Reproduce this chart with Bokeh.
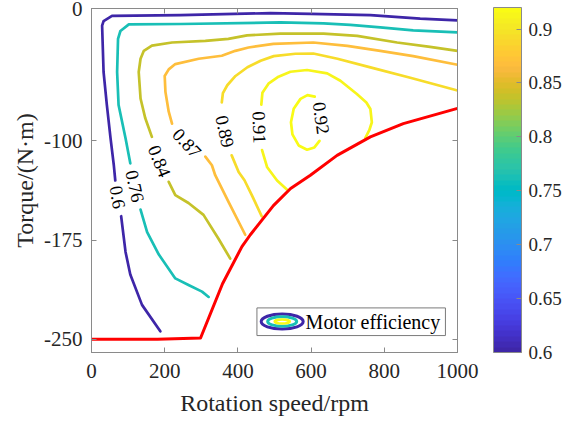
import numpy as np
from bokeh.plotting import figure
from bokeh.models import (ColumnDataSource, LinearAxis, FixedTicker, LinearColorMapper,
                          ColorBar, NumeralTickFormatter, BoxAnnotation, Label, Range1d)
from bokeh.transform import linear_cmap
from bokeh.core.properties import value
from bokeh.embed import file_html
from bokeh.resources import INLINE

# ---------------------------------------------------------------- colormap
PARULA_RGB = [
    (0.2422, 0.1504, 0.6603), (0.2504, 0.1650, 0.7076), (0.2578, 0.1818, 0.7511), (0.2647, 0.1978, 0.7952),
    (0.2706, 0.2147, 0.8364), (0.2751, 0.2342, 0.8710), (0.2783, 0.2559, 0.8991), (0.2803, 0.2782, 0.9221),
    (0.2813, 0.3006, 0.9414), (0.2810, 0.3228, 0.9579), (0.2795, 0.3447, 0.9717), (0.2760, 0.3667, 0.9829),
    (0.2699, 0.3892, 0.9906), (0.2602, 0.4123, 0.9952), (0.2440, 0.4358, 0.9988), (0.2206, 0.4603, 0.9973),
    (0.1963, 0.4847, 0.9892), (0.1834, 0.5074, 0.9798), (0.1786, 0.5289, 0.9682), (0.1764, 0.5499, 0.9520),
    (0.1687, 0.5703, 0.9359), (0.1540, 0.5902, 0.9218), (0.1460, 0.6091, 0.9079), (0.1380, 0.6276, 0.8973),
    (0.1248, 0.6459, 0.8883), (0.1113, 0.6635, 0.8763), (0.0952, 0.6798, 0.8598), (0.0689, 0.6948, 0.8394),
    (0.0297, 0.7082, 0.8163), (0.0036, 0.7197, 0.7917), (0.0067, 0.7300, 0.7660), (0.0433, 0.7394, 0.7394),
    (0.0964, 0.7489, 0.7120), (0.1408, 0.7579, 0.6842), (0.1717, 0.7669, 0.6554), (0.1938, 0.7757, 0.6251),
    (0.2161, 0.7840, 0.5923), (0.2470, 0.7918, 0.5567), (0.2906, 0.7973, 0.5188), (0.3406, 0.8008, 0.4789),
    (0.3909, 0.8029, 0.4354), (0.4456, 0.8024, 0.3909), (0.5044, 0.7993, 0.3480), (0.5616, 0.7942, 0.3045),
    (0.6174, 0.7876, 0.2612), (0.6720, 0.7793, 0.2227), (0.7242, 0.7698, 0.1910), (0.7738, 0.7598, 0.1646),
    (0.8203, 0.7498, 0.1535), (0.8634, 0.7406, 0.1596), (0.9035, 0.7330, 0.1774), (0.9393, 0.7288, 0.2100),
    (0.9728, 0.7298, 0.2394), (0.9956, 0.7434, 0.2371), (0.9970, 0.7659, 0.2199), (0.9952, 0.7893, 0.2028),
    (0.9892, 0.8136, 0.1885), (0.9786, 0.8386, 0.1766), (0.9676, 0.8639, 0.1643), (0.9610, 0.8890, 0.1537),
    (0.9597, 0.9135, 0.1423), (0.9628, 0.9373, 0.1265), (0.9691, 0.9606, 0.1064), (0.9769, 0.9839, 0.0805),
]
PARULA = ["#%02x%02x%02x" % tuple(int(round(c * 255)) for c in rgb) for rgb in PARULA_RGB]

# ---------------------------------------------------------------- data
EFF_LOW, EFF_HIGH = 0.6, 0.92
levels = [0.60, 0.76, 0.84, 0.87, 0.89, 0.91, 0.92]

# iso-efficiency lines (speed in rpm, torque in N·m), split where the label sits
c060_lower_x = [81, 93, 106, 138, 188]
c060_lower_y = [-157, -184, -201, -224, -244]
c060_upper_x = [65, 61, 52, 42, 33, 29, 33, 56, 243, 489, 598, 762, 898, 1000]
c060_upper_y = [-130, -118.5, -98, -73, -48, -13, -9.5, -5.5, -5, -3.5, -4, -5, -7.7, -9]

c076_lower_x = [134, 152, 184, 229, 265, 302, 320]
c076_lower_y = [-152, -169, -186, -204, -209, -214, -218]
c076_upper_x = [106, 93, 74, 70, 72.5, 79, 102, 244, 516, 634, 707, 789, 879, 1000]
c076_upper_y = [-117, -98, -73, -48, -23, -17, -12, -11.7, -10.5, -11.3, -12.4, -14.3, -16.6, -18]

c084_lower_x = [211, 229, 265, 306, 347, 379]
c084_lower_y = [-131, -141, -147, -156, -174, -189]
c084_upper_x = [165, 147, 134, 129, 134, 143, 165, 220, 311, 374, 425, 516, 634, 726, 835, 925, 1000]
c084_upper_y = [-97, -83, -68, -48, -38, -32, -28, -25.7, -24.5, -23, -20.3, -19, -19, -20.7, -25.7, -29, -32]

c087_lower_x = [311, 329, 338, 374, 420]
c087_lower_y = [-112, -118.5, -126, -146, -171]
c087_upper_x = [220, 211, 202, 200, 211, 229, 293, 356, 393, 429, 497, 606, 699, 789, 879, 1000]
c087_upper_y = [-87, -78, -63, -51, -46, -42, -38, -35.7, -32, -29.5, -26.7, -25.7, -28.2, -32, -36, -42.5]

c089_lower_x = [383, 402, 418, 438, 465]
c089_lower_y = [-111, -123.6, -129.8, -141, -157]
c089_upper_x = [356, 359, 371, 393.5, 426, 462, 498, 557, 606, 672, 762, 871, 1000]
c089_upper_y = [-71, -64, -58, -51, -44.4, -39.5, -36, -34.2, -34, -38, -44.5, -52.3, -62]

c091_lower_x = [466, 480, 507, 534.5]
c091_lower_y = [-107, -120, -130, -137]
c091_upper_x = [464, 467, 483.5, 511, 543.5, 589, 644, 680, 725, 751, 762, 766, 759, 748]
c091_upper_y = [-72.6, -63.6, -56.8, -51.5, -47.8, -46.5, -49, -54.6, -64.6, -71, -76, -86, -92, -98]

c092_x = [610, 590, 571, 552.5, 545, 549, 566, 589, 609, 623]
c092_y = [-66.6, -65.5, -68.3, -75.8, -86, -95.2, -103.5, -106.7, -105, -100]

# contour label anchors and text rotation (degrees)
label_x = [72, 119, 186, 261, 365, 459, 628]
label_y = [-142.6, -134.3, -115.4, -101.6, -92.9, -89.9, -82.8]
label_angle_deg = [-80, -78, -68, -47, -78, -88, -82]

# torque limit curve
limit_x = [0, 180, 298, 358, 411, 434, 497, 544, 598, 671, 762, 852, 1000]
limit_y = [-250, -250, -249, -208, -180, -171, -149, -136, -126, -111, -97, -87, -75.5]

x_ticks = [0, 200, 400, 600, 800, 1000]
y_ticks = [-250, -175, -100, 0]
cbar_ticks = [0.6, 0.65, 0.7, 0.75, 0.8, 0.85, 0.9]

# ---------------------------------------------------------------- styling
FONT = "Liberation Serif"
BOX = "#8a8a8a"
TXT = "#262626"

p = figure(width=581, height=424, x_range=Range1d(0, 1000), y_range=Range1d(-260, 0),
           output_backend="svg", toolbar_location=None,
           min_border_left=91, min_border_right=124, min_border_top=8, min_border_bottom=72)
p.grid.visible = False
p.outline_line_color = BOX
p.background_fill_color = "white"


def style_axis(ax, ticks, labels=True):
    ax.ticker = FixedTicker(ticks=ticks)
    ax.major_tick_in = 5
    ax.major_tick_out = 0
    ax.minor_tick_line_color = None
    ax.axis_line_color = BOX
    ax.major_tick_line_color = BOX
    ax.major_label_text_font = FONT
    ax.major_label_text_color = TXT
    ax.major_label_text_font_size = "21px"
    if labels:
        ax.formatter = NumeralTickFormatter(format="0")
        ax.major_label_standoff = 9
    else:
        # tick marks only on the mirrored sides of the box
        ax.major_label_overrides = {t: "" for t in ticks}
        ax.major_label_standoff = 0


style_axis(p.xaxis[0], x_ticks)
style_axis(p.yaxis[0], y_ticks)
for ax in (p.xaxis[0], p.yaxis[0]):
    ax.axis_label_text_font = FONT
    ax.axis_label_text_font_size = "24px"
    ax.axis_label_text_font_style = "normal"
    ax.axis_label_text_color = TXT
p.xaxis[0].axis_label = "Rotation speed/rpm"
p.yaxis[0].axis_label = "Torque/(N·m)"
p.xaxis[0].major_label_standoff = 11
p.xaxis[0].axis_label_standoff = 9
p.yaxis[0].axis_label_standoff = 3

top_axis = LinearAxis()
style_axis(top_axis, x_ticks, labels=False)
p.add_layout(top_axis, "above")
right_axis = LinearAxis()
style_axis(right_axis, y_ticks, labels=False)
p.add_layout(right_axis, "right")

# ---------------------------------------------------------------- contours
segments = [
    (0.60, c060_lower_x, c060_lower_y), (0.60, c060_upper_x, c060_upper_y),
    (0.76, c076_lower_x, c076_lower_y), (0.76, c076_upper_x, c076_upper_y),
    (0.84, c084_lower_x, c084_lower_y), (0.84, c084_upper_x, c084_upper_y),
    (0.87, c087_lower_x, c087_lower_y), (0.87, c087_upper_x, c087_upper_y),
    (0.89, c089_lower_x, c089_lower_y), (0.89, c089_upper_x, c089_upper_y),
    (0.91, c091_lower_x, c091_lower_y), (0.91, c091_upper_x, c091_upper_y),
    (0.92, c092_x, c092_y),
]
seg_src = ColumnDataSource(dict(
    xs=[s[1] for s in segments],
    ys=[s[2] for s in segments],
    level=[s[0] for s in segments],
))
cmap = linear_cmap("level", PARULA, EFF_LOW, EFF_HIGH)
p.multi_line("xs", "ys", source=seg_src, line_color=cmap, line_width=2.7,
             line_join="round", line_cap="round")

lab_src = ColumnDataSource(dict(
    x=label_x, y=label_y,
    text=[f"{v:g}" for v in levels],
    angle=list(np.deg2rad(label_angle_deg)),
))
p.text("x", "y", text="text", angle="angle", source=lab_src,
       text_font=value(FONT), text_font_size=value("18.5px"),
       text_align="center", text_baseline="middle", text_color="black")

p.line(limit_x, limit_y, line_color="#ff0000", line_width=3, line_join="round")

# ---------------------------------------------------------------- legend
legend_box = BoxAnnotation(left=452, right=967, top=-226.3, bottom=-247.2,
                           fill_color="white", fill_alpha=1.0,
                           line_color="#7a7a7a", line_width=1, line_alpha=1.0)
p.add_layout(legend_box)
icon_cx, icon_cy = 521, -236.6
p.ellipse(x=[icon_cx] * 3, y=[icon_cy] * 3,
          width=[42, 29, 15], height=[15, 9.5, 4],
          width_units="screen", height_units="screen",
          fill_color=None, line_width=[3, 3, 2.6],
          line_color=[PARULA[0], PARULA[32], PARULA[63]], level="overlay")
p.add_layout(Label(x=585, y=-236.6, text="Motor efficiency", text_font=FONT,
                   text_font_size="20px", text_color="black",
                   text_baseline="middle", text_align="left", level="overlay"))

# ---------------------------------------------------------------- colorbar
mapper = LinearColorMapper(palette=PARULA, low=EFF_LOW, high=EFF_HIGH)
cbar = ColorBar(color_mapper=mapper, width=28, height=345, padding=0, margin=0,
                location=(36, 0),
                ticker=FixedTicker(ticks=cbar_ticks),
                formatter=NumeralTickFormatter(format="0.0[0]"),
                major_tick_in=5, major_tick_out=0, major_tick_line_color=BOX,
                minor_tick_line_color=None,
                bar_line_color=BOX, label_standoff=7,
                major_label_text_font=FONT, major_label_text_font_size="19px",
                major_label_text_color=TXT,
                background_fill_color=None, border_line_color=None)
p.add_layout(cbar, "right")

open("out.html", "w").write(file_html(p, INLINE))
